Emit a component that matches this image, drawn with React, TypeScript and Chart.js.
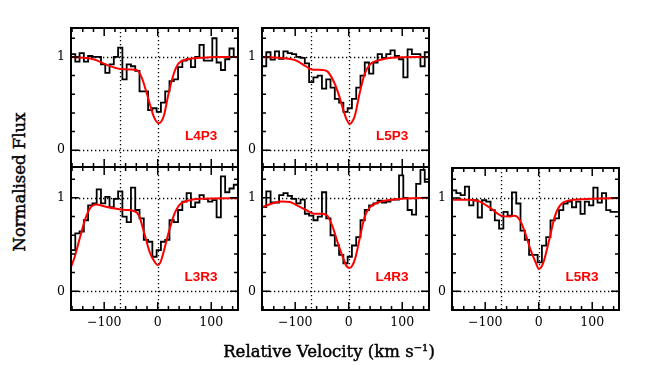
import React, { useEffect, useRef } from 'react';
import { Chart, registerables } from 'chart.js';

Chart.register(...registerables);

// ---- data ----
const VELOCITY_BINS = [
  -158, -150, -142, -134, -126, -118, -110, -102, -94, -86, -78, -70, -62, -54, -46, -38, -30, -22, -14, -6,
  2, 10, 18, 26, 34, 42, 50, 58, 66, 74, 82, 90, 98, 106, 114, 122, 130, 138, 146,
];

const L4P3_FLUX = [1.03, 0.95, 1.04, 0.95, 1.01, 1.0, 1.0, 0.92, 0.83, 0.92, 1.0, 1.1, 0.76, 0.92, 0.9, 0.85, 0.63, 0.63, 0.43, 0.45, 0.41, 0.51, 0.63, 0.74, 0.76, 0.89, 0.96, 0.975, 0.89, 1.0, 1.13, 0.96, 0.96, 1.2, 0.94, 0.86, 0.975, 1.09, 1.0];
const L5P3_FLUX = [0.9, 1.05, 0.97, 1.06, 0.98, 1.06, 1.04, 1.03, 1.0, 0.99, 0.93, 0.73, 0.78, 0.8, 0.66, 0.76, 0.67, 0.55, 0.51, 0.41, 0.45, 0.55, 0.67, 0.8, 0.94, 0.82, 0.94, 1.03, 0.99, 1.03, 1.07, 1.01, 0.975, 0.78, 1.08, 1.03, 1.03, 0.9, 1.05];
const L3R3_FLUX = [0.44, 0.62, 0.64, 0.76, 0.92, 0.94, 1.09, 0.94, 1.01, 0.9, 0.99, 1.07, 0.8, 0.74, 1.11, 0.87, 0.78, 0.55, 0.53, 0.37, 0.44, 0.53, 0.55, 0.76, 0.74, 0.87, 0.96, 1.05, 0.9, 0.95, 1.03, 0.99, 0.96, 0.975, 0.79, 1.23, 1.06, 1.1, 1.14];
const L4R3_FLUX = [0.9, 1.07, 0.95, 0.95, 1.03, 1.05, 1.02, 0.99, 0.94, 0.98, 0.83, 0.81, 0.76, 0.8, 1.06, 0.78, 0.6, 0.49, 0.39, 0.3, 0.37, 0.49, 0.58, 0.76, 0.87, 0.92, 0.94, 0.97, 0.95, 0.96, 0.98, 0.98, 1.24, 1.0, 0.87, 0.82, 1.15, 1.3, 1.17];
const L5R3_FLUX = [1.08, 1.05, 1.03, 1.12, 0.92, 0.975, 0.79, 0.975, 0.96, 0.87, 0.76, 0.67, 0.85, 0.81, 1.06, 0.94, 0.65, 0.55, 0.39, 0.39, 0.31, 0.49, 0.58, 0.76, 0.78, 0.87, 0.94, 0.96, 0.9, 0.96, 0.83, 0.96, 0.92, 1.11, 0.95, 1.05, 0.87, 0.85, 0.85];

const L4P3_MODEL_V = [-162, -140, -120, -95, -70, -50, -39, -30, -22, -15, -8, -3, 2, 7, 12, 20, 30, 39, 55, 80, 110, 150];
const L4P3_MODEL_F = [1.0, 0.99, 0.975, 0.915, 0.87, 0.865, 0.86, 0.78, 0.64, 0.5, 0.37, 0.31, 0.29, 0.31, 0.38, 0.6, 0.82, 0.93, 0.975, 0.99, 1.0, 1.0];
const L5P3_MODEL_V = [-162, -120, -100, -80, -70, -50, -40, -30, -20, -10, -4, 2, 7, 12, 20, 30, 40, 60, 80, 150];
const L5P3_MODEL_F = [1.0, 0.985, 0.965, 0.9, 0.865, 0.86, 0.845, 0.76, 0.62, 0.43, 0.33, 0.28, 0.31, 0.38, 0.6, 0.82, 0.92, 0.97, 0.99, 1.0];
const L3R3_MODEL_V = [-162, -155, -145, -135, -125, -115, -100, -80, -60, -45, -35, -25, -15, -5, 0, 5, 10, 20, 30, 40, 60, 80, 150];
const L3R3_MODEL_F = [0.26, 0.37, 0.58, 0.78, 0.9, 0.93, 0.91, 0.886, 0.87, 0.86, 0.81, 0.62, 0.42, 0.31, 0.28, 0.31, 0.4, 0.62, 0.81, 0.92, 0.975, 0.99, 0.995];
const L4R3_MODEL_V = [-162, -140, -125, -110, -100, -80, -65, -50, -40, -30, -20, -10, -4, 2, 7, 12, 20, 30, 40, 60, 80, 100, 150];
const L4R3_MODEL_F = [0.9, 0.945, 0.96, 0.955, 0.93, 0.87, 0.83, 0.83, 0.81, 0.69, 0.51, 0.35, 0.27, 0.25, 0.28, 0.35, 0.55, 0.8, 0.9, 0.96, 0.98, 0.99, 1.0];
const L5R3_MODEL_V = [-162, -130, -110, -90, -70, -55, -45, -35, -25, -15, -5, 0, 5, 10, 20, 30, 40, 60, 100, 150];
const L5R3_MODEL_F = [0.98, 0.98, 0.96, 0.89, 0.81, 0.8, 0.81, 0.76, 0.62, 0.44, 0.3, 0.24, 0.26, 0.33, 0.56, 0.8, 0.92, 0.975, 0.99, 1.0];

const X_MAJOR_TICKS = [-100, 0, 100];
const X_MINOR_TICKS = [-160, -140, -120, -80, -60, -40, -20, 20, 40, 60, 80, 120, 140];
const Y_MAJOR_TICKS = [0, 1];
const Y_MINOR_TICKS = [0.2, 0.4, 0.6, 0.8, 1.2];
const V_GUIDES = [-70, 0];
const F_GUIDES = [0, 1];
const X_MIN = -162;
const X_MAX = 150;

const LABEL_FONT = '"DejaVu Serif", serif';

type Panel = {
  label: string;
  flux: number[];
  modelV: number[];
  modelF: number[];
  left: number;
  top: number;
  width: number;
  height: number;
  yMin: number;
  yMax: number;
  showX: boolean;
};

const PANELS: Panel[] = [
  { label: 'L4P3', flux: L4P3_FLUX, modelV: L4P3_MODEL_V, modelF: L4P3_MODEL_F, left: 71, top: 28, width: 167, height: 139, yMin: -0.18, yMax: 1.31, showX: false },
  { label: 'L5P3', flux: L5P3_FLUX, modelV: L5P3_MODEL_V, modelF: L5P3_MODEL_F, left: 262, top: 28, width: 167, height: 139, yMin: -0.18, yMax: 1.31, showX: false },
  { label: 'L3R3', flux: L3R3_FLUX, modelV: L3R3_MODEL_V, modelF: L3R3_MODEL_F, left: 71, top: 167, width: 167, height: 143, yMin: -0.2, yMax: 1.33, showX: true },
  { label: 'L4R3', flux: L4R3_FLUX, modelV: L4R3_MODEL_V, modelF: L4R3_MODEL_F, left: 262, top: 167, width: 167, height: 143, yMin: -0.2, yMax: 1.33, showX: true },
  { label: 'L5R3', flux: L5R3_FLUX, modelV: L5R3_MODEL_V, modelF: L5R3_MODEL_F, left: 452, top: 168, width: 167, height: 142, yMin: -0.2, yMax: 1.32, showX: true },
];

const Y_AXIS_W = 30;
const X_AXIS_H = 30;
const PAD = 4;

const framePlugin = {
  id: 'spectrumFrame',
  beforeDatasetsDraw(chart: any) {
    const { ctx, chartArea: a, scales } = chart;
    const x = scales.x;
    const y = scales.y;
    ctx.save();
    ctx.beginPath();
    ctx.rect(a.left, a.top, a.right - a.left, a.bottom - a.top);
    ctx.clip();
    ctx.strokeStyle = '#000';
    ctx.lineWidth = 1.3;
    ctx.setLineDash([1.3, 2.7]);
    ctx.beginPath();
    V_GUIDES.forEach((v) => {
      const px = Math.round(x.getPixelForValue(v)) + 0.5;
      ctx.moveTo(px, a.top);
      ctx.lineTo(px, a.bottom);
    });
    F_GUIDES.forEach((f) => {
      const py = Math.round(y.getPixelForValue(f)) + 0.5;
      ctx.moveTo(a.left, py);
      ctx.lineTo(a.right, py);
    });
    ctx.stroke();
    ctx.restore();
  },
  afterDatasetsDraw(chart: any, _args: any, opts: any) {
    const { ctx, chartArea: a, scales } = chart;
    const x = scales.x;
    const y = scales.y;
    ctx.save();
    ctx.strokeStyle = '#000';
    ctx.lineWidth = 1.5;
    ctx.beginPath();
    const xt = (list: number[], len: number) =>
      list.forEach((v) => {
        const px = x.getPixelForValue(v);
        ctx.moveTo(px, a.bottom);
        ctx.lineTo(px, a.bottom - len);
        ctx.moveTo(px, a.top);
        ctx.lineTo(px, a.top + len);
      });
    const yt = (list: number[], len: number) =>
      list.forEach((f) => {
        const py = y.getPixelForValue(f);
        ctx.moveTo(a.left, py);
        ctx.lineTo(a.left + len, py);
        ctx.moveTo(a.right, py);
        ctx.lineTo(a.right - len, py);
      });
    xt(X_MAJOR_TICKS, 8);
    xt(X_MINOR_TICKS, 4);
    yt(Y_MAJOR_TICKS, 8);
    yt(Y_MINOR_TICKS, 4);
    ctx.stroke();
    ctx.lineWidth = 2;
    ctx.strokeRect(a.left, a.top, a.right - a.left, a.bottom - a.top);
    if (opts && opts.label) {
      ctx.fillStyle = '#ff0000';
      ctx.font = 'bold 13.5px "Liberation Sans", Arial, sans-serif';
      ctx.textAlign = 'center';
      ctx.textBaseline = 'middle';
      ctx.fillText(opts.label, x.getPixelForValue(81), y.getPixelForValue(0.15));
    }
    ctx.restore();
  },
};

function PanelChart({ p }: { p: Panel }) {
  const ref = useRef<HTMLCanvasElement | null>(null);
  const cw = p.width + Y_AXIS_W + PAD;
  const ch = p.height + PAD + (p.showX ? X_AXIS_H : PAD);

  useEffect(() => {
    if (!ref.current) return;
    const hist = [
      { x: X_MIN, y: p.flux[0] },
      ...VELOCITY_BINS.map((v, i) => ({ x: v, y: p.flux[i] })),
      { x: X_MAX, y: p.flux[p.flux.length - 1] },
    ];
    const model = p.modelV.map((v, i) => ({ x: v, y: p.modelF[i] }));
    const chart = new Chart(ref.current, {
      type: 'line',
      data: {
        datasets: [
          {
            data: model,
            borderColor: '#ff0000',
            borderWidth: 2,
            pointRadius: 0,
            cubicInterpolationMode: 'monotone',
            fill: false,
          },
          {
            data: hist,
            borderColor: '#000000',
            borderWidth: 1.8,
            pointRadius: 0,
            stepped: 'middle',
            fill: false,
          },
        ],
      },
      options: {
        animation: false,
        responsive: false,
        devicePixelRatio: 1,
        events: [],
        layout: { padding: { left: 0, right: PAD, top: PAD, bottom: p.showX ? 0 : PAD } },
        plugins: {
          legend: { display: false },
          tooltip: { enabled: false },
          title: { display: false },
          spectrumFrame: { label: p.label },
        } as any,
        scales: {
          x: {
            type: 'linear',
            min: X_MIN,
            max: X_MAX,
            display: p.showX,
            position: 'bottom',
            grid: { display: false, drawTicks: false },
            border: { display: false },
            ticks: {
              autoSkip: false,
              maxRotation: 0,
              padding: 5,
              color: '#000',
              font: { family: LABEL_FONT, size: 12.5 },
              callback: (v: any) => (Number(v) < 0 ? '\u2212' + Math.abs(Number(v)) : String(v)),
            },
            afterBuildTicks: (s: any) => {
              s.ticks = X_MAJOR_TICKS.map((v) => ({ value: v }));
            },
            afterFit: (s: any) => {
              s.height = p.showX ? X_AXIS_H : 0;
              s.paddingLeft = 0;
              s.paddingRight = 0;
              s.paddingTop = 0;
              s.paddingBottom = 0;
            },
          },
          y: {
            type: 'linear',
            min: p.yMin,
            max: p.yMax,
            position: 'left',
            grid: { display: false, drawTicks: false },
            border: { display: false },
            ticks: {
              padding: 6,
              color: '#000',
              font: { family: LABEL_FONT, size: 12.5 },
              callback: (v: any) => String(v),
            },
            afterBuildTicks: (s: any) => {
              s.ticks = Y_MAJOR_TICKS.map((v) => ({ value: v }));
            },
            afterFit: (s: any) => {
              s.width = Y_AXIS_W;
              s.paddingLeft = 0;
              s.paddingRight = 0;
              s.paddingTop = 0;
              s.paddingBottom = 0;
            },
          },
        },
      } as any,
      plugins: [framePlugin as any],
    });
    return () => chart.destroy();
  }, [p]);

  return (
    <canvas
      ref={ref}
      width={cw}
      height={ch}
      style={{ position: 'absolute', left: p.left - Y_AXIS_W, top: p.top - PAD, width: cw, height: ch }}
    />
  );
}

const titleStyle: React.CSSProperties = {
  position: 'absolute',
  whiteSpace: 'nowrap',
  fontFamily: LABEL_FONT,
  fontSize: 16.5,
  lineHeight: '18px',
  color: '#000',
  WebkitTextStroke: '0.45px #000',
};

export default function App() {
  return (
    <div style={{ position: 'absolute', left: 0, top: 0, width: 654, height: 382, background: '#fff', overflow: 'hidden' }}>
      {PANELS.map((p) => (
        <PanelChart key={p.label} p={p} />
      ))}
      <div style={{ ...titleStyle, left: 329, top: 343, transform: 'translateX(-50%)' }}>
        Relative Velocity (km s<sup style={{ fontSize: 10, lineHeight: 0 }}>−1</sup>)
      </div>
      <div style={{ ...titleStyle, left: 20, top: 182, transform: 'translate(-50%, -50%) rotate(-90deg)' }}>
        Normalised Flux
      </div>
    </div>
  );
}
